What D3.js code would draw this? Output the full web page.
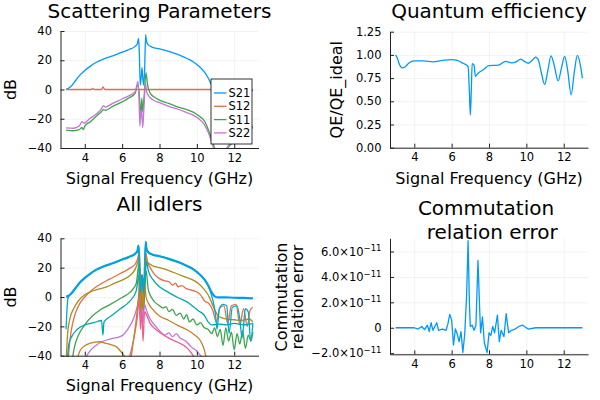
<!DOCTYPE html>
<html>
<head>
<meta charset="utf-8">
<script src="https://cdn.jsdelivr.net/npm/d3@7"></script>
<style>
  body { margin: 0; background: #fff; }
  svg { font-family: "DejaVu Sans", sans-serif; }
</style>
</head>
<body>
<svg id="chart" width="600" height="400"></svg>
<script>
// ---- data (frequency in GHz, value) ----
const freqTicks = [4, 6, 8, 10, 12];
const dbTicks = [-40, -20, 0, 20, 40];
const qeTicks = [0, 0.25, 0.5, 0.75, 1.0, 1.25];
const errTicks = [-2e-11, 0, 2e-11, 4e-11, 6e-11];
const sNames = ["S21", "S12", "S11", "S22"];

const s21 = [[3.0,0.3],[3.1,0.6],[3.25,2],[3.5,6],[3.75,10],[4.0,13],[4.3,16],[4.6,18.5],[5.0,20.8],[5.5,23],[6.0,25.5],[6.4,27.5],[6.7,29.5],[6.82,31.5],[6.88,35],[6.92,25],[6.97,3],[7.02,8],[7.06,15],[7.1,9],[7.15,3],[7.2,12],[7.26,37.5],[7.3,33],[7.4,30.5],[7.6,29],[8.0,27.8],[8.5,26],[9.0,23.8],[9.5,21],[9.8,19],[10.1,16],[10.4,12],[10.6,8],[10.8,3],[10.95,0.5],[11.1,-0.3],[11.5,-0.2],[12.0,-0.5],[12.5,-0.6],[13.0,-1.0]];
const s12 = [[3,0],[4.35,0],[4.42,0.7],[4.5,0],[4.9,0],[4.97,1.8],[5.05,0.3],[5.15,0],[13,0]];
const s11 = [[3.0,-27.8],[3.4,-28.2],[3.7,-27.5],[3.85,-26],[3.92,-27.5],[4.0,-25],[4.3,-22],[4.6,-18.5],[4.9,-15],[5.0,-13.8],[5.1,-14.2],[5.5,-11.5],[6.0,-8.5],[6.4,-5.5],[6.7,-2.5],[6.82,3],[6.9,-1],[6.95,-10],[7.0,-20],[7.05,-6],[7.1,-15],[7.18,-4],[7.28,11.5],[7.35,4],[7.5,-2.5],[7.7,-5],[8.0,-7.3],[8.5,-9.5],[9.0,-12],[9.5,-14],[9.8,-15.5],[10.1,-18],[10.4,-21.5],[10.6,-27],[10.8,-34],[11.0,-42],[11.2,-45],[11.5,-42],[12.0,-35],[12.5,-30],[13.0,-26]];
const s22 = [[3.0,-26.2],[3.4,-26.5],[3.7,-25],[3.85,-22],[3.95,-23],[4.3,-19.5],[4.6,-17],[4.9,-13],[5.0,-11],[5.1,-12],[5.5,-9.5],[6.0,-6.5],[6.4,-4],[6.7,-1.5],[6.85,5.5],[6.9,-5],[6.95,-25],[7.0,-14],[7.05,-15],[7.1,-26],[7.17,-12],[7.25,4],[7.32,-2],[7.5,-5.5],[7.7,-7.5],[8.0,-9],[8.5,-11.5],[9.0,-13.5],[9.5,-16],[9.8,-17.5],[10.1,-20],[10.4,-24],[10.6,-29],[10.8,-36],[11.0,-44],[11.3,-46],[11.6,-40],[12.0,-33],[12.5,-28],[13.0,-25]];

const qe = [[3.0,1.0],[3.1,0.96],[3.2,0.9],[3.35,0.86],[3.5,0.87],[3.7,0.91],[4.0,0.935],[4.5,0.935],[5.0,0.925],[5.5,0.94],[6.0,0.95],[6.3,0.94],[6.6,0.91],[6.88,0.875],[6.95,0.6],[7.0,0.35],[7.05,0.6],[7.1,0.905],[7.2,0.89],[7.27,0.77],[7.4,0.8],[7.7,0.84],[8.0,0.885],[8.5,0.89],[8.9,0.93],[9.2,0.915],[9.45,0.925],[9.7,0.955],[9.9,0.93],[10.1,0.91],[10.3,0.94],[10.5,0.975],[10.65,0.94],[10.8,0.81],[10.98,0.68],[11.15,0.83],[11.32,0.99],[11.5,0.88],[11.7,0.72],[11.88,0.86],[12.05,0.985],[12.2,0.85],[12.4,0.57],[12.57,0.82],[12.73,0.995],[12.9,0.88],[13.0,0.75]];

const commErr = [[3.0,0],[4.0,0],[4.2,-0.1e-11],[4.4,0.1e-11],[4.55,-0.15e-11],[4.7,0.2e-11],[4.8,-0.3e-11],[4.9,0.4e-11],[5.0,-0.2e-11],[5.1,0.1e-11],[5.2,0.4e-11],[5.3,-0.2e-11],[5.5,-0.1e-11],[5.7,-0.2e-11],[5.8,0.3e-11],[5.9,1.05e-11],[6.0,0.6e-11],[6.1,-1.35e-11],[6.2,-0.1e-11],[6.3,-0.5e-11],[6.4,-1.1e-11],[6.5,-0.3e-11],[6.6,-1.95e-11],[6.7,-0.5e-11],[6.8,2.5e-11],[6.88,6.85e-11],[6.95,2e-11],[7.0,0.1e-11],[7.1,0.2e-11],[7.2,-0.2e-11],[7.3,0.2e-11],[7.41,5.3e-11],[7.5,1.5e-11],[7.55,-0.4e-11],[7.65,0.85e-11],[7.75,-1.2e-11],[7.9,-1.95e-11],[8.0,-0.4e-11],[8.1,-0.6e-11],[8.2,0.1e-11],[8.3,-0.4e-11],[8.45,1.0e-11],[8.55,-1.1e-11],[8.65,-0.2e-11],[8.8,-0.7e-11],[8.92,1.1e-11],[9.05,-0.4e-11],[9.2,-0.2e-11],[9.4,-0.1e-11],[9.6,0.1e-11],[9.8,0.2e-11],[10.0,0],[10.1,-0.1e-11],[10.5,0],[13,0]];

// idlers (signal reuses s21)
const idlerOrange = [[3.1,-45],[3.2,-30],[3.35,-18],[3.5,-11],[3.75,-4],[4.0,0],[4.4,5],[4.8,8.5],[5.3,12],[5.9,16],[6.4,19.5],[6.7,22.5],[6.85,27],[6.9,31],[6.95,10],[7.0,-5],[7.05,5],[7.1,-8],[7.2,15],[7.27,30],[7.35,24],[7.5,20],[7.7,16],[8.0,12.5],[8.3,11],[8.5,10.5],[8.7,8],[8.85,9.5],[9.0,7],[9.2,7.8],[9.4,6],[9.6,5],[9.9,4],[10.2,1.5],[10.4,-2.5],[10.65,-4.5],[10.85,-9],[11.05,-17],[11.25,-7],[11.45,-6],[11.65,-18],[11.85,-6],[12.1,-5],[12.3,-19],[12.5,-8],[12.7,-20],[12.85,-9],[13.0,-7]];
const idlerGreen = [[3.3,-45],[3.45,-34],[3.7,-25],[4.0,-19],[4.4,-13],[4.8,-9],[5.3,-5.5],[5.9,-1],[6.4,3],[6.75,9],[6.9,22],[6.95,5],[7.0,-10],[7.07,8],[7.13,-12],[7.2,5],[7.28,18],[7.4,5],[7.6,-1],[8.0,-6],[8.2,-7.5],[8.35,-6.5],[8.5,-10],[8.7,-8.5],[8.9,-12.5],[9.1,-11],[9.3,-15],[9.45,-12],[9.6,-17],[9.8,-15],[10.0,-19],[10.2,-17.5],[10.4,-21],[10.6,-22],[10.8,-25],[10.95,-21],[11.1,-27],[11.25,-22],[11.4,-33],[11.55,-21],[11.7,-30],[11.85,-24],[12.0,-36],[12.15,-25],[12.3,-32],[12.45,-23],[12.6,-35],[12.75,-26],[12.9,-30],[13.0,-24]];
const idlerPurple = [[3.9,-45],[4.2,-38],[4.6,-33],[5.0,-30],[5.4,-28.5],[5.9,-27],[6.3,-22],[6.6,-15],[6.8,-7],[6.92,0],[6.97,-15],[7.03,-5],[7.1,-18],[7.2,-5],[7.3,-9],[7.5,-15],[7.8,-20],[8.0,-23],[8.3,-26],[8.5,-24.5],[8.7,-27],[8.9,-25],[9.1,-28],[9.4,-30],[9.7,-34],[10.0,-37],[10.2,-40],[10.5,-44]];
const idlerOlive = [[3.0,-45],[3.08,-25],[3.2,-15],[3.4,-8],[3.7,-2],[4.0,1.5],[4.3,3.5],[4.8,5.5],[5.2,7],[5.6,9.5],[6.0,11.5],[6.4,14.5],[6.7,19],[6.85,24],[6.92,28],[6.97,0],[7.03,-10],[7.1,5],[7.18,-5],[7.25,28],[7.35,24],[7.6,21.5],[8.0,20],[8.5,18],[9.0,15.5],[9.5,13],[9.8,11.5],[10.1,9],[10.4,5],[10.6,1.5],[10.8,-4],[11.0,-10],[11.2,-13.5],[11.6,-15],[12.0,-15.5],[12.4,-16],[12.8,-15],[13.0,-17]];
const idlerTeal = [[3.05,-45],[3.15,-32],[3.3,-27],[3.6,-22],[4.0,-19],[4.5,-17.5],[4.9,-16],[4.97,-26],[5.03,-17],[5.4,-13],[5.9,-8],[6.4,-3],[6.75,4],[6.9,15],[6.95,0],[7.0,14],[7.05,-2],[7.1,13],[7.15,-5],[7.22,10],[7.3,24],[7.4,18],[7.7,11],[8.0,7],[8.5,3],[9.0,-0.5],[9.5,-3.5],[9.8,-6.5],[10.1,-9.5],[10.4,-12.5],[10.6,-17],[10.8,-19],[11.2,-18.5],[11.6,-19],[12.0,-18],[12.5,-19],[13.0,-18]];
const idlerPink = [[6.3,-45],[6.6,-30],[6.8,-15],[6.92,-2],[6.98,-22],[7.05,-8],[7.12,-30],[7.2,-10],[7.3,-12],[7.5,-18],[7.8,-22],[8.0,-24],[8.5,-28],[9.0,-31],[9.5,-35],[9.8,-40],[10.0,-45]];
const idlerBrown = [[3.6,-42],[3.77,-36],[4.3,-31.5],[4.8,-30.5],[5.1,-31.5],[5.4,-32.5],[5.7,-34],[6.1,-40],[6.4,-45],[6.6,-30],[6.8,-10],[6.9,5],[6.95,20],[7.0,-5],[7.05,12],[7.12,-8],[7.2,10],[7.28,0],[7.4,-4],[7.6,-8],[8.0,-12.9],[8.5,-16],[9.0,-19.5],[9.5,-22.5],[9.9,-26],[10.2,-30],[10.4,-36],[10.55,-45]];
const cyanLow = [[3.0,-22],[3.05,-8],[3.1,-1],[3.2,1.5]];
const cyanHigh = [[10.85,-2],[11.0,-12],[11.08,-22],[11.2,-8],[11.4,-5],[11.6,-6],[11.72,-25],[11.9,-7],[12.15,-6],[12.3,-15],[12.42,-28],[12.6,-8],[12.75,-10],[12.88,-30],[13.0,-18]];
const idlerCyan = [...cyanLow, ...s21.filter(d => d[0] > 3.2 && d[0] < 10.7), ...cyanHigh];

// Plots.jl default palette
const palette = ["#009AFA","#E36F47","#3EA44E","#C376D3","#AC8D18","#00A9AD","#ED5E93","#C68225","#00A98D","#8E971E","#00A8CB"];

const svg = d3.select("#chart");
const xDomain = [2.7, 13.3];
const tickFont = 11.5, guideFont = 16, titleFont = 20;
let clipN = 0;

function panel(box, yDomain, yTicks, yFmt) {
    const g = svg.append("g");
    const x = d3.scaleLinear().domain(xDomain).range([box.x0, box.x1]);
    const y = d3.scaleLinear().domain(yDomain).range([box.y1, box.y0]);

    // grid
    g.append("g").attr("transform", `translate(0,${box.y1})`)
        .call(d3.axisBottom(x).tickValues(freqTicks).tickSize(-(box.y1 - box.y0)).tickFormat(""))
        .call(s => s.select(".domain").remove())
        .selectAll("line").attr("stroke", "#000").attr("stroke-opacity", 0.1).attr("stroke-width", 0.5);
    g.append("g").attr("transform", `translate(${box.x0},0)`)
        .call(d3.axisLeft(y).tickValues(yTicks).tickSize(-(box.x1 - box.x0)).tickFormat(""))
        .call(s => s.select(".domain").remove())
        .selectAll("line").attr("stroke", "#000").attr("stroke-opacity", 0.1).attr("stroke-width", 0.5);

    const id = "clip" + (clipN++);
    svg.append("clipPath").attr("id", id).append("rect")
        .attr("x", box.x0).attr("y", box.y0 - 1).attr("width", box.x1 - box.x0).attr("height", box.y1 - box.y0 + 2);
    const lines = g.append("g").attr("clip-path", `url(#${id})`);

    const axes = g.append("g");
    const draw = () => {
        axes.append("g").attr("transform", `translate(0,${box.y1})`)
            .call(d3.axisBottom(x).tickValues(freqTicks).tickSize(-4).tickSizeOuter(0).tickPadding(5.5))
            .call(s => s.selectAll("text").attr("font-size", tickFont).attr("fill", "#000").attr("font-family", "DejaVu Sans"))
            .call(s => s.selectAll("line,path").attr("stroke", "#222"));
        const ya = axes.append("g").attr("transform", `translate(${box.x0},0)`)
            .call(d3.axisLeft(y).tickValues(yTicks).tickSize(-4).tickSizeOuter(0).tickPadding(8.5).tickFormat(yFmt))
            .call(s => s.selectAll("text").attr("font-size", tickFont).attr("fill", "#000").attr("font-family", "DejaVu Sans"))
            .call(s => s.selectAll("line,path").attr("stroke", "#222"));
        return ya;
    };
    const line = (data, color, width, curve) => lines.append("path")
        .datum(data)
        .attr("fill", "none")
        .attr("stroke", color)
        .attr("stroke-width", width || 1.3)
        .attr("stroke-linejoin", "round")
        .attr("d", d3.line().x(d => x(d[0])).y(d => y(d[1])).curve(curve || d3.curveMonotoneX));
    return { g, x, y, line, draw, box };
}

function label(txt, x, y, size, rotate) {
    const t = svg.append("text").attr("font-size", size).attr("text-anchor", "middle").attr("fill", "#000")
        .style("white-space", "pre").text(txt);
    if (rotate) t.attr("transform", `translate(${x},${y}) rotate(-90)`);
    else t.attr("x", x).attr("y", y);
    return t;
}

// ---- Scattering parameters ----
const p1 = panel({ x0: 60.5, x1: 258.5, y0: 31, y1: 148 }, [-40, 40], dbTicks, d3.format("d"));
const sSeries = [s21, s12, s11, s22];
sSeries.forEach((d, i) => p1.line(d, palette[i]));
p1.draw();
const leg = svg.append("g").attr("transform", "translate(211,79)");
leg.append("rect").attr("width", 41).attr("height", 65).attr("fill", "#fff").attr("stroke", "#000").attr("stroke-width", 0.8);
sNames.forEach((n, i) => {
    const yy = 14 + i * 13.3;
    leg.append("line").attr("x1", 3).attr("x2", 15.5).attr("y1", yy).attr("y2", yy)
        .attr("stroke", palette[i]).attr("stroke-width", 1.3);
    leg.append("text").attr("x", 17.5).attr("y", yy + 4).attr("font-size", 11.5).text(n);
});
label("Scattering Parameters", 159.5, 18, titleFont);
label("Signal Frequency (GHz)", 159.5, 184, guideFont);
label("dB", 16, 89.5, guideFont, true);

// ---- Quantum efficiency ----
const p2 = panel({ x0: 390, x1: 588, y0: 31.7, y1: 147.7 }, [0, 1.25], qeTicks, d3.format(".2f"));
p2.line(qe, palette[0]);
p2.draw();
label("Quantum efficiency", 489, 18, titleFont);
label("Signal Frequency (GHz)", 489, 184, guideFont);
label("QE/QE_ideal", 342, 89.7, guideFont, true);

// ---- All idlers ----
const p3 = panel({ x0: 60.5, x1: 258.5, y0: 238.3, y1: 355.7 }, [-40, 40], dbTicks, d3.format("d"));
p3.line(s21, palette[0], 2.2);
[idlerOrange, idlerGreen, idlerPurple, idlerOlive, idlerTeal, idlerPink, idlerBrown]
    .forEach((d, i) => p3.line(d, palette[i + 1]));
p3.line(idlerCyan, palette[10]);
p3.draw();
label("All idlers", 159.5, 211, titleFont);
label("Signal Frequency (GHz)", 159.5, 391.3, guideFont);
label("dB", 16, 297, guideFont, true);

// ---- Commutation relation error ----
const p4 = panel({ x0: 390, x1: 588, y0: 238.3, y1: 354.3 }, [-2.09e-11, 7.04e-11], errTicks, d => d);
p4.line(commErr, palette[0], 1.3, d3.curveLinear);
const ya = p4.draw();
ya.selectAll(".tick text").each(function (d) {
    const t = d3.select(this);
    t.text(null);
    if (d === 0) { t.text("0"); return; }
    const m = (d / 1e-11).toFixed(1).replace("-", "\u2212");
    t.append("tspan").text(m + "\u00d710");
    t.append("tspan").attr("dy", "-0.5em").attr("font-size", 8.5).text("\u221211");
});
label("Commutation", 486, 215, titleFont);
label(" relation error", 489, 238.5, titleFont);
label("Commutation", 286.5, 297, guideFont, true);
label("relation error", 302.5, 297, guideFont, true);
</script>
</body>
</html>
